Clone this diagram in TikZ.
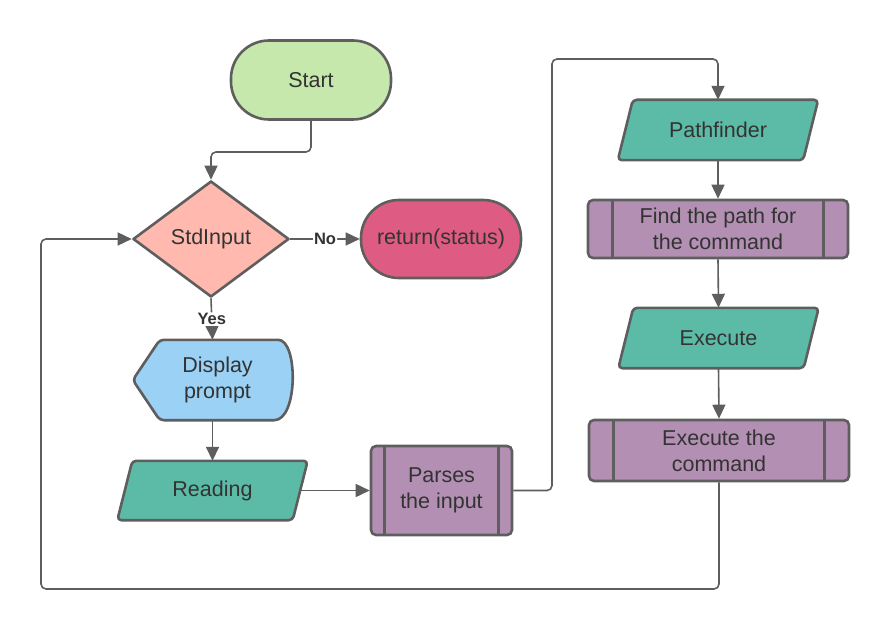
\documentclass[tikz,border=0pt]{standalone}
\usepackage{fontspec}
\setmainfont{Liberation Sans}
\usetikzlibrary{shapes.geometric,arrows.meta,backgrounds}
\definecolor{cline}{HTML}{5E5E5E}
\definecolor{ctext}{HTML}{333333}
\definecolor{cgreen}{HTML}{C7E8AC}
\definecolor{csalmon}{HTML}{FFB9AF}
\definecolor{cret}{HTML}{DE5C83}
\definecolor{cblue}{HTML}{9AD1F4}
\definecolor{cteal}{HTML}{5CBBA7}
\definecolor{cpurple}{HTML}{B28FB3}
\newcommand{\myfont}{\fontsize{21.5}{26}\selectfont}
\tikzset{
  shapeline/.style={draw=cline, line width=2.6pt, line join=round},
  txt/.style={text=ctext, font=\myfont, align=center, inner sep=0pt},
  stadium/.style={txt, shapeline, rectangle, rounded corners=38pt, minimum width=160pt, minimum height=79pt},
  dec/.style={txt, shapeline, diamond, fill=csalmon, minimum width=156pt, minimum height=116pt},
  holder/.style={txt, rectangle, draw=none},
  proc/.style={txt, shapeline, rectangle, rounded corners=5pt, fill=cpurple},
  conn/.style={draw=cline, line width=1.6pt, rounded corners=5pt, -{Triangle[length=14pt,width=13pt]}},
  lbl/.style={fill=white, text=ctext, font=\fontsize{16.5}{18}\selectfont\bfseries, inner sep=1pt}
}
\newcommand{\mypara}[1]{%
  \draw[shapeline, fill=cteal, rounded corners=4pt]
    ([xshift=7.5pt]#1.north west) -- ([xshift=7.5pt]#1.north east) --
    ([xshift=-7.5pt]#1.south east) -- ([xshift=-7.5pt]#1.south west) -- cycle;}
\newcommand{\mybars}[2]{%
  \draw[draw=cline, line width=2.6pt] ([xshift=#2]#1.north west) -- ([xshift=#2]#1.south west);
  \draw[draw=cline, line width=2.6pt] ([xshift=-#2]#1.north east) -- ([xshift=-#2]#1.south east);}
\begin{document}
\begin{tikzpicture}[x=1pt, y=-1pt]
\begin{pgfonlayer}{background}
\fill[white] (0,0) rectangle (889,631);
\end{pgfonlayer}
\useasboundingbox (0,0) rectangle (889,631);
% nodes
\node[stadium, fill=cgreen] (start) at (311,80) {Start};
\node[dec] (dec) at (211,239) {StdInput};
\node[stadium, fill=cret, minimum height=78pt] (ret) at (441,239) {return(status)};
\node[holder, minimum width=159pt, minimum height=80pt] (disp) at (212.5,380) {\hspace*{10pt}Display\\\hspace*{10pt}prompt};
\node[holder, minimum width=175pt, minimum height=59pt] (read) at (212.5,490.5) {Reading};
\node[proc, minimum width=141pt, minimum height=89pt] (parse) at (441.5,490.5) {Parses\\the input};
\node[holder, minimum width=185pt, minimum height=60pt] (path) at (718,130) {Pathfinder};
\node[proc, minimum width=260pt, minimum height=58pt] (find) at (718,229) {Find the path for\\the command};
\node[holder, minimum width=185pt, minimum height=60pt] (exec) at (718.5,338) {Execute};
\node[proc, minimum width=260pt, minimum height=61pt] (cmd) at (719,450.5) {Execute the\\command};
\mybars{parse}{15pt}
\mybars{find}{26pt}
\mybars{cmd}{26pt}
\begin{pgfonlayer}{background}
  \mypara{read}
  \mypara{path}
  \mypara{exec}
  \draw[shapeline, fill=cblue, rounded corners=4pt]
    (disp.west) -- ([xshift=27pt]disp.north west) -- ([xshift=-18pt]disp.north east)
    [rounded corners=0pt] .. controls ([xshift=6pt]disp.north east) and ([xshift=6pt]disp.south east) ..
    ([xshift=-18pt]disp.south east) [rounded corners=4pt] -- ([xshift=27pt]disp.south west) -- cycle;
\end{pgfonlayer}
% coordinates
\coordinate (up) at (552,59);
\coordinate (loop) at (41,589);
% connectors
\draw[conn] (start.south) -- (start.south |- 0,152) -| (dec.north);
\draw[conn] (dec.south) -- node[lbl] {Yes} (disp.north);
\draw[conn] (dec.east) -- node[lbl] {No} (ret.west);
\draw[conn] (disp.south) -- (read.north);
\draw[conn] (read.east) -- (parse.west);
\draw[conn] (parse.east) -| (up) -| (path.north);
\draw[conn] (path.south) -- (find.north);
\draw[conn] (find.south) -- (exec.north);
\draw[conn] (exec.south) -- (cmd.north);
\draw[conn] (cmd.south) |- (loop) |- (dec.west);
\end{tikzpicture}
\end{document}
